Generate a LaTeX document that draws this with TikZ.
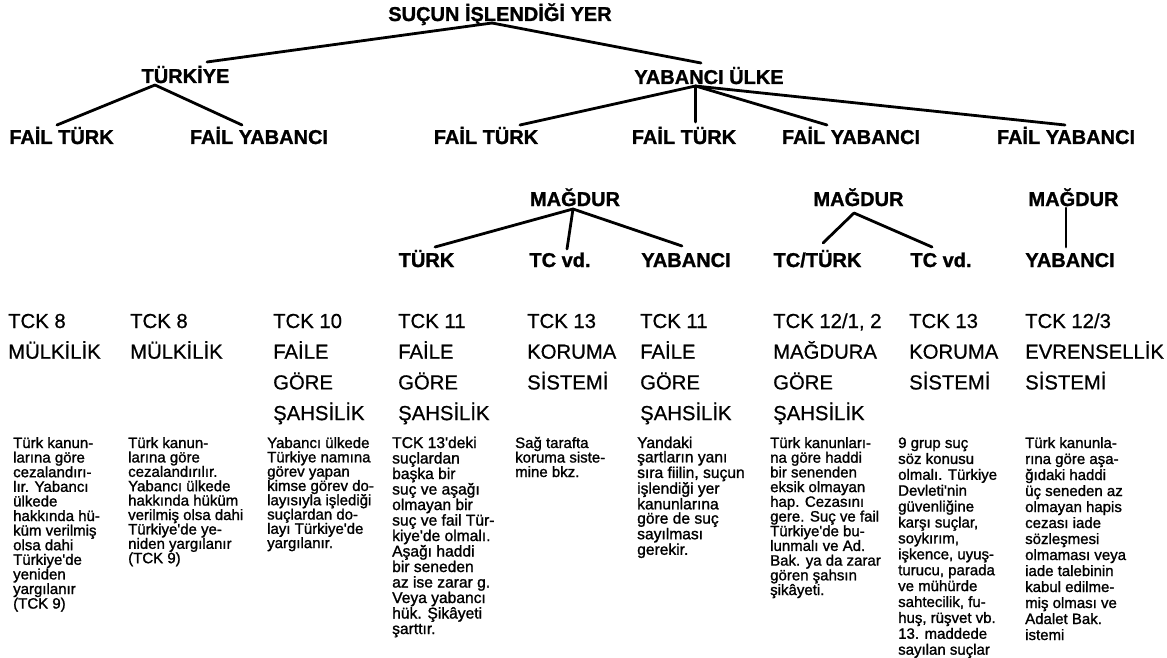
\documentclass[tikz,border=0pt]{standalone}
\usepackage{fontspec}
\setmainfont{Liberation Sans}[BoldFeatures={FakeBold=1.2}]
\newfontfamily\scanfont{Liberation Sans}[FakeBold=1.3]
\newfontfamily\headfont{Liberation Sans}[FakeBold=0.6]
\newcommand{\mycol}[3]{\parbox[t]{150pt}{\raggedright\scanfont\fontsize{#1}{#2}\selectfont #3}}
\newcommand{\myhead}[1]{\parbox[t]{150pt}{\raggedright\headfont\fontsize{20.3}{30.7}\selectfont #1}}
\begin{document}
\begin{tikzpicture}[x=1pt,y=-1pt,
  lbl/.style={font=\bfseries\fontsize{20}{24}\selectfont, inner sep=0pt, anchor=base},
  txt/.style={inner sep=0pt, anchor=base west},
  conn/.style={line width=2.8pt, line cap=round}]
\useasboundingbox (0,0) rectangle (1167,658);
% tree labels
\node[lbl] (title) at (500,21) {SUÇUN İŞLENDİĞİ YER};
\node[lbl] (tr) at (185.5,83) {TÜRKİYE};
\node[lbl] (yu) at (709,84) {YABANCI ÜLKE};
\node[lbl] (f1) at (61.5,144) {FAİL TÜRK};
\node[lbl] (f2) at (259,144) {FAİL YABANCI};
\node[lbl] (f3) at (486,144) {FAİL TÜRK};
\node[lbl] (f4) at (684,144) {FAİL TÜRK};
\node[lbl] (f5) at (851,144) {FAİL YABANCI};
\node[lbl] (f6) at (1066,144) {FAİL YABANCI};
\node[lbl] (m1) at (575,206) {MAĞDUR};
\node[lbl] (m2) at (858.5,206) {MAĞDUR};
\node[lbl] (m3) at (1073.5,206) {MAĞDUR};
\node[lbl] (r1) at (426.5,267) {TÜRK};
\node[lbl] (r2) at (560,267) {TC vd.};
\node[lbl] (r3) at (686,267) {YABANCI};
\node[lbl] (r4) at (817.5,267) {TC/TÜRK};
\node[lbl] (r5) at (941,267) {TC vd.};
\node[lbl] (r6) at (1070,267) {YABANCI};
% connectors
\draw[conn] ([shift={(-8,2)}]title.base) -- ([shift={(21.5,-21)}]tr.base);
\draw[conn] ([shift={(-8,2)}]title.base) -- ([shift={(-8,-21)}]yu.base);
\draw[conn] ([shift={(-30.5,2)}]tr.base) -- ([shift={(-4.5,-19)}]f1.base);
\draw[conn] ([shift={(-30.5,2)}]tr.base) -- ([shift={(-17,-19)}]f2.base);
\draw[conn] ([shift={(-13.5,2)}]yu.base) -- ([shift={(34,-19)}]f3.base);
\draw[conn] ([shift={(-13.5,2)}]yu.base) -- ([shift={(11.5,-22)}]f4.base);
\draw[conn] ([shift={(-13.5,2)}]yu.base) -- ([shift={(-24,-19)}]f5.base);
\draw[conn] ([shift={(-13.5,2)}]yu.base) -- ([shift={(-1,-19)}]f6.base);
\draw[conn] ([shift={(-2,3)}]m1.base) -- ([shift={(8.5,-20)}]r1.base);
\draw[conn] ([shift={(-2,3)}]m1.base) -- ([shift={(7,-18)}]r2.base);
\draw[conn] ([shift={(-2,3)}]m1.base) -- ([shift={(-4,-21)}]r3.base);
\draw[conn] ([shift={(-4.5,7)}]m2.base) -- ([shift={(5.5,-24)}]r4.base);
\draw[conn] ([shift={(-4.5,7)}]m2.base) -- ([shift={(-9,-20)}]r5.base);
\draw[conn] ([shift={(-7.5,2)}]m3.base) -- ([shift={(-4,-20)}]r6.base);
% headings
\node[txt] (h1) at (8,328) {\myhead{TCK 8\\MÜLKİLİK}};
\node[txt] (h2) at (130,328) {\myhead{TCK 8\\MÜLKİLİK}};
\node[txt] (h3) at (273,328) {\myhead{TCK 10\\FAİLE\\GÖRE\\ŞAHSİLİK}};
\node[txt] (h4) at (398,328) {\myhead{TCK 11\\FAİLE\\GÖRE\\ŞAHSİLİK}};
\node[txt] (h5) at (527,328) {\myhead{TCK 13\\KORUMA\\SİSTEMİ}};
\node[txt] (h6) at (640,328) {\myhead{TCK 11\\FAİLE\\GÖRE\\ŞAHSİLİK}};
\node[txt] (h7) at (773,328) {\myhead{TCK 12/1, 2\\MAĞDURA\\GÖRE\\ŞAHSİLİK}};
\node[txt] (h8) at (909,328) {\myhead{TCK 13\\KORUMA\\SİSTEMİ}};
\node[txt] (h9) at (1025,328) {\myhead{TCK 12/3\\EVRENSELLİK\\SİSTEMİ}};
% descriptions
\node[txt] (d1) at (13,448) {\mycol{15}{14.6}{Türk kanun-\\larına göre\\cezalandırı-\\lır. Yabancı\\ülkede\\hakkında hü-\\küm verilmiş\\olsa dahi\\Türkiye'de\\yeniden\\yargılanır\\(TCK 9)}};
\node[txt] (d2) at (128,448) {\mycol{15}{14.4}{Türk kanun-\\larına göre\\cezalandırılır.\\Yabancı ülkede\\hakkında hüküm\\verilmiş olsa dahi\\Türkiye'de ye-\\niden yargılanır\\(TCK 9)}};
\node[txt] (d3) at (267,448) {\mycol{15}{14.3}{Yabancı ülkede\\Türkiye namına\\görev yapan\\kimse görev do-\\layısıyla işlediği\\suçlardan do-\\layı Türkiye'de\\yargılanır.}};
\node[txt] (d4) at (392,448) {\mycol{15.6}{15.5}{TCK 13'deki\\suçlardan\\başka bir\\suç ve aşağı\\olmayan bir\\suç ve fail Tür-\\kiye'de olmalı.\\Aşağı haddi\\bir seneden\\az ise zarar g.\\Veya yabancı\\hük. Şikâyeti\\şarttır.}};
\node[txt] (d5) at (515,448) {\mycol{15}{14.5}{Sağ tarafta\\koruma siste-\\mine bkz.}};
\node[txt] (d6) at (637,448) {\mycol{15.6}{14.3}{Yandaki\\şartların yanı\\sıra fiilin, suçun\\işlendiği yer\\kanunlarına\\göre de suç\\sayılması\\gerekir.}};
\node[txt] (d7) at (770,448) {\mycol{15}{14.7}{Türk kanunları-\\na göre haddi\\bir senenden\\eksik olmayan\\hap. Cezasını\\gere. Suç ve fail\\Türkiye'de bu-\\lunmalı ve Ad.\\Bak. ya da zarar\\gören şahsın\\şikâyeti.}};
\node[txt] (d8) at (898,448) {\mycol{15}{15.9}{9 grup suç\\söz konusu\\olmalı. Türkiye\\Devleti'nin\\güvenliğine\\karşı suçlar,\\soykırım,\\işkence, uyuş-\\turucu, parada\\ve mühürde\\sahtecilik, fu-\\huş, rüşvet vb.\\13. maddede\\sayılan suçlar}};
\node[txt] (d9) at (1025,448) {\mycol{15}{16}{Türk kanunla-\\rına göre aşa-\\ğıdaki haddi\\üç seneden az\\olmayan hapis\\cezası iade\\sözleşmesi\\olmaması veya\\iade talebinin\\kabul edilme-\\miş olması ve\\Adalet Bak.\\istemi}};
\end{tikzpicture}
\end{document}
